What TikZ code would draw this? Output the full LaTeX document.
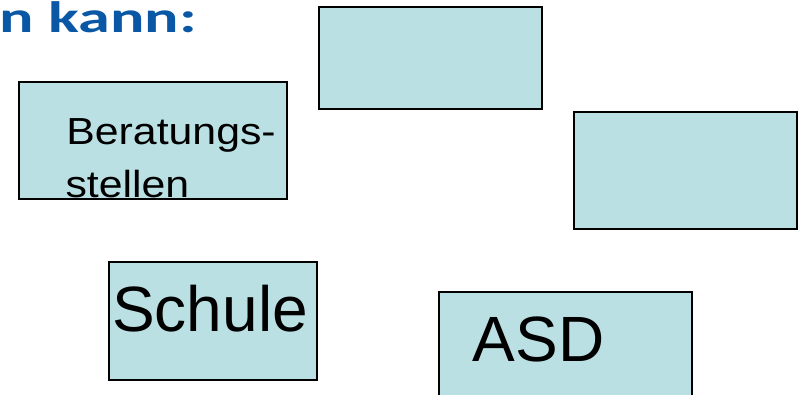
\documentclass[tikz,border=0pt]{standalone}
\usepackage{fontspec}
\setmainfont{Liberation Sans}
\newfontfamily\titlefont[BoldFont=* Bold]{Carlito}
\usepackage{graphicx}
\definecolor{boxfill}{RGB}{187,224,227}
\definecolor{titleblue}{RGB}{10,88,165}
\begin{document}
\begin{tikzpicture}[x=1pt,y=-1pt,
  infobox/.style={draw=black,line width=2.2pt,fill=boxfill,inner sep=0pt,anchor=north west},
  boxtext/.style={inner sep=0pt,anchor=base west,text=black}]
\useasboundingbox (0,0) rectangle (800,394);
\clip (0,0) rectangle (800,394);
\fill[white] (0,0) rectangle (800,394);
% title
\node[inner sep=0pt,anchor=base west,text=titleblue] (title) at (-1,32.3)
  {\scalebox{1.46}[1]{\fontsize{44}{50}\selectfont\titlefont\bfseries n kann:}};
% boxes
\node[infobox,minimum width=223pt,minimum height=102pt] (boxA) at (318,6) {};
\node[infobox,minimum width=268pt,minimum height=117pt] (boxB) at (18,81) {};
\node[infobox,minimum width=223pt,minimum height=117pt] (boxC) at (573,111) {};
\node[infobox,minimum width=208pt,minimum height=118pt] (boxD) at (108,261) {};
\node[infobox,minimum width=253pt,minimum height=130pt] (boxE) at (438,291) {};
% texts
\node[boxtext] (ber1) at (66.2,144.3) {\scalebox{1.135}[1]{\fontsize{37.7}{40}\selectfont Beratungs-}};
\node[boxtext] (ber2) at (65.4,197) {\scalebox{1.135}[1]{\fontsize{37.7}{40}\selectfont stellen}};
\node[boxtext] (schule) at (112.1,331.5) {\fontsize{64}{70}\selectfont Schule};
\node[boxtext] (asd) at (472.5,361.5) {\fontsize{64}{70}\selectfont ASD};
\end{tikzpicture}
\end{document}
